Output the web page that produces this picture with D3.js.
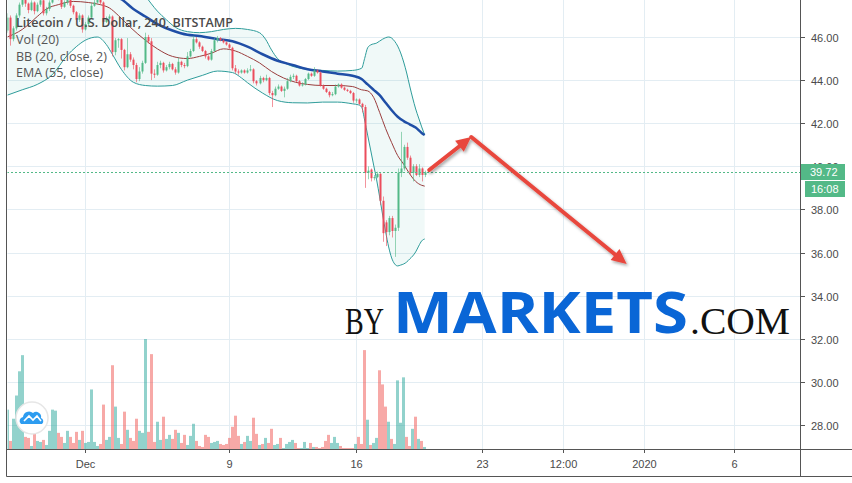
<!DOCTYPE html>
<html><head><meta charset="utf-8">
<script src="https://cdn.jsdelivr.net/npm/d3@7"></script>
<style>body{margin:0;background:#fff}svg{display:block}</style>
</head><body>
<svg id="c" width="852" height="483"></svg>
<script>
// ---------- DATA ----------
const title = "Litecoin / U.S. Dollar, 240, BITSTAMP";
const legendLines = ["Vol (20)", "BB (20, close, 2)", "EMA (55, close)"];
const firstCandle = "2019-11-26T16:00:00Z";   // 4h candles
const candleHours = 4;
const opens  = [46.3,46.9,45.9,46.4,47.0,47.5,47.9,47.55,47.25,47.6,47.2,47.5,47.7,47.1,47.3,47.6,47.95,48.15,47.8,47.4,
  47.6,47.85,47.45,47.15,46.8,47.0,46.35,46.6,46.9,47.45,47.6,47.8,47.6,46.7,46.85,46.95,45.3,45.85,45.9,45.4,
  44.6,45.2,44.95,44.7,44.05,44.4,44.8,46.0,45.8,44.3,44.25,44.7,44.8,44.45,44.6,44.75,44.5,44.35,44.85,44.7,
  44.65,45.1,45.35,45.9,45.75,45.55,45.35,45.1,44.95,45.35,45.85,45.95,45.85,45.75,45.65,45.5,44.55,44.4,44.35,44.45,
  44.35,44.45,44.5,43.95,43.85,44.1,44.0,44.1,43.4,43.3,43.6,43.7,43.5,43.6,43.95,44.15,44.2,43.95,43.75,43.8,
  44.05,44.3,44.2,44.45,44.35,43.75,43.6,43.45,43.3,43.35,43.7,43.8,43.65,43.55,43.5,43.4,43.05,43.1,42.9,42.75,
  39.7,39.85,39.45,39.5,39.65,38.4,37.4,36.95,37.6,37.0,37.15,39.7,39.9,40.9,40.4,39.7,40.0,39.6,39.9,39.6];
const highs  = [47.1,47.0,46.5,47.1,47.6,48.1,48.0,47.6,47.7,47.65,47.6,47.8,47.75,47.4,47.7,48.1,48.3,48.2,47.85,47.7,
  47.95,47.9,47.5,47.2,47.1,47.05,46.7,47.0,47.6,47.75,47.9,47.85,47.65,46.95,47.05,47.0,45.95,45.95,45.95,45.45,
  45.95,45.3,45.05,44.8,44.6,44.9,46.2,46.1,45.95,44.5,44.85,44.9,44.85,44.7,44.85,44.8,44.6,45.05,44.9,44.8,
  45.3,45.45,46.05,46.0,45.8,45.6,45.4,45.15,45.45,45.95,46.05,46.0,45.9,45.8,45.7,45.55,44.7,44.5,44.5,44.5,
  44.55,44.7,44.55,44.0,44.2,44.15,44.25,44.15,43.5,43.7,43.8,43.75,43.7,44.1,44.25,44.3,44.25,44.0,43.9,44.1,
  44.35,44.35,44.6,44.5,44.4,43.8,43.65,43.5,43.45,43.8,43.85,43.85,43.7,43.6,43.55,43.45,43.15,43.15,42.95,42.85,
  40.0,39.9,39.6,39.75,39.7,38.6,37.5,37.7,37.7,37.3,39.9,41.6,41.0,41.1,40.5,40.1,40.1,40.1,39.95,39.8];
const lows   = [46.2,45.6,45.8,46.3,46.9,47.4,47.4,47.1,47.2,47.05,47.15,47.4,47.0,47.0,47.2,47.55,47.9,47.7,47.3,47.35,
  47.5,47.35,47.05,46.7,46.7,46.2,46.3,46.5,46.85,47.4,47.55,47.5,46.6,46.65,46.8,45.1,45.15,45.5,45.0,44.45,
  44.55,44.85,44.5,43.9,43.95,44.3,44.75,45.7,44.0,44.1,44.2,44.55,44.35,44.4,44.5,44.45,44.25,44.3,44.6,44.55,
  44.6,45.05,45.3,45.7,45.45,45.3,45.0,44.9,44.9,45.3,45.75,45.8,45.7,45.6,45.45,44.45,44.3,44.25,44.3,44.3,
  44.3,44.4,43.85,43.75,43.8,43.9,43.95,43.3,42.75,43.25,43.55,43.45,43.2,43.55,43.9,44.05,43.9,43.7,43.7,43.75,
  44.0,44.15,44.15,44.3,43.7,43.55,43.4,43.2,43.25,43.3,43.65,43.6,43.5,43.45,43.35,42.95,42.95,42.85,42.5,39.0,
  39.4,39.3,39.35,39.45,38.2,36.5,36.3,36.8,36.7,35.8,37.0,39.5,39.8,40.3,39.6,39.3,39.55,39.5,39.3,39.5];
const closes = [46.9,45.9,46.4,47.0,47.5,47.9,47.55,47.25,47.6,47.2,47.5,47.7,47.1,47.3,47.6,47.95,48.15,47.8,47.4,47.6,
  47.85,47.45,47.15,46.8,47.0,46.35,46.6,46.9,47.45,47.6,47.8,47.6,46.7,46.85,46.95,45.3,45.85,45.9,45.4,44.6,
  45.2,44.95,44.7,44.05,44.4,44.8,46.0,45.8,44.3,44.25,44.7,44.8,44.45,44.6,44.75,44.5,44.35,44.85,44.7,44.65,
  45.1,45.35,45.9,45.75,45.55,45.35,45.1,44.95,45.35,45.85,45.95,45.85,45.75,45.65,45.5,44.55,44.4,44.35,44.45,44.35,
  44.45,44.5,43.95,43.85,44.1,44.0,44.1,43.4,43.3,43.6,43.7,43.5,43.6,43.95,44.15,44.2,43.95,43.75,43.8,44.05,
  44.3,44.2,44.45,44.35,43.75,43.6,43.45,43.3,43.35,43.7,43.8,43.65,43.55,43.5,43.4,43.05,43.1,42.9,42.75,39.7,
  39.8,39.45,39.5,39.65,38.4,36.9,36.95,37.6,37.0,37.15,39.7,39.9,40.9,40.4,39.7,40.0,39.6,39.9,39.6,39.72];
const volumes = [39,8,30,53,77,93,12,11,3,15,8,7,9,4,18,39,38,16,12,6,
  18,12,6,17,9,18,6,7,59,7,3,5,44,9,12,83,42,11,5,37,
  19,11,8,30,18,16,109,17,94,7,27,9,32,10,14,10,19,16,6,14,
  4,13,25,8,3,2,14,12,6,7,8,5,4,5,11,22,33,13,5,7,
  13,8,31,15,4,5,11,6,20,4,5,11,1,5,7,9,6,1,1,7,
  1,6,2,2,1,2,8,14,6,12,6,3,1,1,1,1,5,12,5,98,
  29,4,6,11,78,64,42,27,10,5,68,26,71,12,3,20,32,10,8,2];

// indicator readings (candle index -> value)
const bbUpperIdx = [0,10,20,30,38,42,46,50,53,56,60,64,68,72,76,80,84,86,88,90,93,96,100,105,110,115,118,119,120,121,123,125,127,128,129,130,131,132,133,134,135,136,137,138,139];
const bbUpper    = [48.5,49.5,50.0,49.6,49.0,48.6,47.9,47.2,46.8,46.45,46.25,46.2,46.25,46.35,46.4,46.35,46.2,45.9,45.4,45.0,44.75,44.6,44.5,44.45,44.42,44.45,44.55,45.0,45.5,45.63,45.72,45.9,46.0,45.95,45.8,45.58,45.26,44.84,44.33,43.73,43.17,42.66,42.24,41.83,41.45];
const bbMidIdx = [0,5,10,13,17,22,27,31,34,37,41,46,50,55,60,64,68,72,76,80,84,88,92,96,100,105,110,115,118,120,122,124,126,128,130,132,134,136,138,139];
const bbMid    = [46.0,46.35,46.95,47.3,47.5,47.65,47.6,47.5,47.35,47.0,46.45,45.85,45.45,45.1,45.0,45.1,45.25,45.45,45.35,45.1,44.8,44.4,44.1,43.9,43.8,43.75,43.75,43.7,43.55,43.5,43.2,42.5,41.75,41.1,40.5,40.1,39.65,39.3,39.12,39.08];
const bbLowerIdx = [0,5,10,15,20,23,26,30,33,35,38,42,46,50,55,60,65,70,75,78,80,85,90,95,100,105,110,115,117,118,119,120,121,122,123,124,125,126,127,128,129,130,131,132,133,134,135,136,137,138,139];
const bbLower    = [43.3,43.55,43.8,44.25,45.15,45.55,45.85,46.0,45.65,45.2,44.5,43.9,43.75,43.72,43.75,44.0,44.22,44.42,44.35,44.1,43.88,43.4,43.05,42.95,42.94,42.98,42.98,42.9,42.85,42.75,42.15,41.45,40.76,40.06,39.37,38.58,37.74,36.96,36.26,35.75,35.47,35.38,35.42,35.47,35.56,35.7,35.84,36.03,36.3,36.54,36.63];
const emaIdx = [0,10,20,30,35,38,42,46,50,55,60,64,70,75,80,85,90,95,100,105,110,115,118,120,122,124,126,128,130,132,134,136,138,139];
const ema    = [48.6,48.5,48.4,48.1,47.9,47.75,47.3,46.95,46.6,46.3,46.1,46.05,45.9,45.8,45.55,45.2,44.9,44.7,44.5,44.4,44.3,44.2,44.05,43.8,43.55,43.3,42.95,42.6,42.3,42.1,41.95,41.8,41.55,41.45];

const priceTicks = [28,30,32,34,36,38,40,42,44,46];
const timeTicks  = ["2019-12-01T00:00:00Z","2019-12-09T00:00:00Z","2019-12-16T00:00:00Z","2019-12-23T00:00:00Z","2019-12-27T12:00:00Z","2020-01-01T00:00:00Z","2020-01-06T00:00:00Z"];
const timeTickLabels = ["Dec","9","16","23","12:00","2020","6"];
const lastPrice = 39.72;
const countdown = "16:08";
// forecast arrows: [time, price]
const arrowPts = [["2019-12-20T02:00:00Z",39.83],["2019-12-22T10:00:00Z",41.36],["2019-12-31T01:00:00Z",35.47]];

// ---------- LAYOUT ----------
const W = 852, H = 483;
const L = 7, R = 800, T = 0, B = 449, BB = 476;
const UP = "#53b987", DN = "#eb4d5c";
const svg = d3.select("#c");

const x = d3.scaleUtc()
  .domain([new Date("2019-11-26T15:43:00Z"), new Date("2020-01-09T15:50:00Z")])
  .range([L, R]);
const y = d3.scaleLinear().domain([28, 46]).range([425, 37]);
const yV = d3.scaleLinear().domain([0, d3.max(volumes)]).range([B, 339]);

const t0 = new Date(firstCandle).getTime();
const tOf = i => new Date(t0 + i * candleHours * 3600e3);
const cx = i => x(tOf(i));

const defs = svg.append("defs");
defs.append("clipPath").attr("id", "plot").append("rect")
  .attr("x", L + 0.5).attr("y", T).attr("width", R - L - 0.5).attr("height", B - T);
const yl = Math.round(y(lastPrice));
defs.append("clipPath").attr("id", "above").append("rect")
  .attr("x", R).attr("y", 0).attr("width", 60).attr("height", yl - 8);
const f = defs.append("filter").attr("id", "sh").attr("x", "-20%").attr("y", "-20%").attr("width", "140%").attr("height", "140%");
f.append("feDropShadow").attr("dx", 1.5).attr("dy", 2).attr("stdDeviation", 1.5)
  .attr("flood-color", "#000").attr("flood-opacity", 0.35);

svg.append("rect").attr("width", W).attr("height", H).attr("fill", "#fff");

const plot = svg.append("g").attr("clip-path", "url(#plot)");

// grid
plot.selectAll("line.hg").data(priceTicks).join("line")
  .attr("x1", L).attr("x2", R)
  .attr("y1", d => Math.round(y(d)) + 0.5).attr("y2", d => Math.round(y(d)) + 0.5)
  .attr("stroke", "#e3edf3").attr("stroke-width", 1);
plot.selectAll("line.vg").data(timeTicks).join("line")
  .attr("x1", d => Math.round(x(new Date(d))) + 0.5).attr("x2", d => Math.round(x(new Date(d))) + 0.5)
  .attr("y1", T).attr("y2", B)
  .attr("stroke", "#e3edf3").attr("stroke-width", 1);

// volume
const idx = d3.range(closes.length);
plot.selectAll("rect.vol").data(idx).join("rect")
  .attr("x", i => Math.round(cx(i) - 1.5))
  .attr("width", 3)
  .attr("y", i => yV(volumes[i]))
  .attr("height", i => B - yV(volumes[i]))
  .attr("fill", i => closes[i] >= opens[i] ? "rgba(38,166,154,0.5)" : "rgba(239,83,80,0.5)");

// Bollinger fill + lines
const curve = d3.curveMonotoneX;
const lowerPts = bbLowerIdx.map((k, j) => [cx(k), y(bbLower[j])]);
const upperPts = bbUpperIdx.map((k, j) => [cx(k), y(bbUpper[j])]);
const lineGen = d3.line().curve(curve);
const upPath = lineGen(upperPts);
const loPathRev = d3.line().curve(curve)(lowerPts.slice().reverse());
plot.append("path")
  .attr("d", upPath + "L" + loPathRev.slice(1) + "Z")
  .attr("fill", "rgba(38,166,154,0.07)");
plot.append("path").attr("d", upPath).attr("fill", "none").attr("stroke", "#2e9c9a").attr("stroke-width", 1);
plot.append("path").attr("d", lineGen(lowerPts)).attr("fill", "none").attr("stroke", "#2e9c9a").attr("stroke-width", 1);
plot.append("path").attr("d", lineGen(bbMidIdx.map((k, j) => [cx(k), y(bbMid[j])])))
  .attr("fill", "none").attr("stroke", "#9a3d3d").attr("stroke-width", 1);
plot.append("path").attr("d", lineGen(emaIdx.map((k, j) => [cx(k), y(ema[j])])))
  .attr("fill", "none").attr("stroke", "#1f4ea6").attr("stroke-width", 2.5);

// candles
const cg = plot.append("g");
cg.selectAll("line.wick").data(idx).join("line")
  .attr("x1", i => Math.round(cx(i)) + 0.5).attr("x2", i => Math.round(cx(i)) + 0.5)
  .attr("y1", i => y(highs[i])).attr("y2", i => y(lows[i]))
  .attr("stroke", i => closes[i] >= opens[i] ? UP : DN).attr("stroke-opacity", 0.6).attr("stroke-width", 1);
cg.selectAll("rect.body").data(idx).join("rect")
  .attr("x", i => Math.round(cx(i)) - 0.5)
  .attr("width", 2)
  .attr("y", i => y(Math.max(opens[i], closes[i])))
  .attr("height", i => Math.max(1, Math.abs(y(opens[i]) - y(closes[i]))))
  .attr("fill", i => closes[i] >= opens[i] ? UP : DN);

// last price dotted line
plot.append("line").attr("x1", L).attr("x2", R)
  .attr("y1", yl + 0.5).attr("y2", yl + 0.5)
  .attr("stroke", UP).attr("stroke-width", 1).attr("stroke-dasharray", "2,2");

// watermark
const wm = svg.append("g");
wm.append("text").attr("x", 345).attr("y", 334).attr("font-family", "Liberation Serif, DejaVu Serif, serif")
  .attr("font-size", 38).attr("fill", "#111").attr("textLength", 39).attr("lengthAdjust", "spacingAndGlyphs").text("BY");
wm.append("text").attr("x", 393).attr("y", 333).attr("font-family", "Open Sans, Noto Sans, sans-serif")
  .attr("font-weight", 700).attr("font-size", 58).attr("fill", "#0a66d6")
  .attr("textLength", 295).attr("lengthAdjust", "spacingAndGlyphs").text("MARKETS");
wm.append("text").attr("x", 690).attr("y", 334).attr("font-family", "Liberation Serif, DejaVu Serif, serif")
  .attr("font-size", 38).attr("fill", "#111").attr("textLength", 100).attr("lengthAdjust", "spacingAndGlyphs").text(".COM");

// arrows
const ap = arrowPts.map(d => [x(new Date(d[0])), y(d[1])]);
const ag = svg.append("g").attr("filter", "url(#sh)");
function arrow(p0, p1) {
  const dx = p1[0] - p0[0], dy = p1[1] - p0[1], len = Math.hypot(dx, dy);
  const ux = dx / len, uy = dy / len, hl = 15, hw = 7;
  const bx = p1[0] - ux * hl, by = p1[1] - uy * hl;
  ag.append("line").attr("x1", p0[0]).attr("y1", p0[1]).attr("x2", bx + ux * 2).attr("y2", by + uy * 2)
    .attr("stroke", "#e8473d").attr("stroke-width", 4).attr("stroke-linecap", "round");
  ag.append("path").attr("d", `M${p1[0]},${p1[1]}L${bx - uy * hw},${by + ux * hw}L${bx + uy * hw},${by - ux * hw}Z`)
    .attr("fill", "#e8473d");
}
arrow(ap[0], ap[1]);
arrow(ap[1], ap[2]);

// legend
const lg = svg.append("g").attr("font-family", "Open Sans, Noto Sans, sans-serif").attr("font-size", 12.5);
lg.append("text").attr("x", 16).attr("y", 27).attr("font-weight", 600).attr("fill", "#4a4a4a").text(title);
legendLines.forEach((t, i) => lg.append("text").attr("x", 16).attr("y", 44 + i * 16.7).attr("fill", "#555").text(t));

// TradingView logo
const logo = svg.append("g").attr("transform", "translate(32,418)");
logo.append("circle").attr("r", 16).attr("fill", "#fff").attr("stroke", "#e6e6e6").attr("stroke-width", 1.5);
logo.append("path").attr("d", "M-11,6 A4,4 0 0 1 -9,-1 A6,6 0 0 1 1,-5 A5,5 0 0 1 9,0 A3.5,3.5 0 0 1 10,6 Z").attr("fill", "#2d9cf0");
logo.append("polyline").attr("points", "-8,3 -3,-2 1,2 5,-2 9,3").attr("fill", "none").attr("stroke", "#fff").attr("stroke-width", 1.6);

// frame
const fr = svg.append("g").attr("stroke", "#555").attr("stroke-width", 1).attr("fill", "none");
fr.append("line").attr("x1", L - 0.5).attr("x2", L - 0.5).attr("y1", 0).attr("y2", BB + 0.5);
fr.append("line").attr("x1", R + 0.5).attr("x2", R + 0.5).attr("y1", 0).attr("y2", BB + 0.5);
fr.append("line").attr("x1", L - 0.5).attr("x2", 852).attr("y1", B + 0.5).attr("y2", B + 0.5);
fr.append("line").attr("x1", L - 0.5).attr("x2", 852).attr("y1", BB + 0.5).attr("y2", BB + 0.5);

// price axis
const pa = svg.append("g").attr("font-family", "Liberation Sans, Arial, sans-serif").attr("font-size", 11).attr("fill", "#4a4a4a");
priceTicks.forEach(p => {
  const yy = Math.round(y(p)) + 0.5;
  pa.append("line").attr("x1", R).attr("x2", R + 5).attr("y1", yy).attr("y2", yy).attr("stroke", "#555");
  const t = pa.append("text").attr("x", 811).attr("y", yy + 4).text(d3.format(".2f")(p));
  if (Math.abs(yy - yl) < 12) t.attr("clip-path", "url(#above)");
});
pa.append("rect").attr("x", R + 1).attr("y", yl - 8).attr("width", 44).attr("height", 16).attr("fill", UP);
pa.append("text").attr("x", 810).attr("y", yl + 4).attr("fill", "#fff").text(d3.format(".2f")(lastPrice));
pa.append("rect").attr("x", 805).attr("y", yl + 9).attr("width", 40).attr("height", 16).attr("fill", UP);
pa.append("text").attr("x", 811).attr("y", yl + 21).attr("fill", "#fff").text(countdown);

// time axis
const ta = svg.append("g").attr("font-family", "Liberation Sans, Arial, sans-serif").attr("font-size", 11).attr("fill", "#4a4a4a");
timeTicks.forEach((d, i) => {
  const xx = Math.round(x(new Date(d))) + 0.5;
  ta.append("line").attr("x1", xx).attr("x2", xx).attr("y1", B).attr("y2", B + 4).attr("stroke", "#555");
  ta.append("text").attr("x", xx).attr("y", 468).attr("text-anchor", "middle").text(timeTickLabels[i]);
});
</script>
</body></html>
